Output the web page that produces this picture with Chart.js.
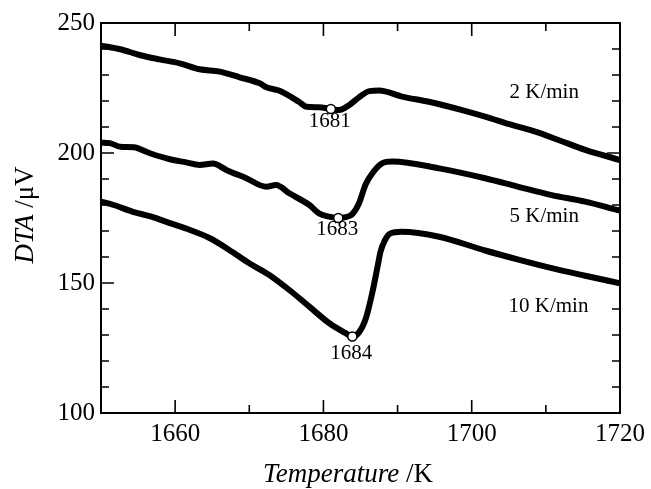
<!DOCTYPE html>
<html>
<head>
<meta charset="utf-8">
<script src="https://cdn.jsdelivr.net/npm/chart.js@4.4.0/dist/chart.umd.min.js"></script>
<style>
  html, body { margin: 0; padding: 0; background: #fff; }
  #wrap { width: 651px; height: 489px; position: relative; }
</style>
</head>
<body>
<div id="wrap"><canvas id="dta"></canvas></div>
<script>
// DTA curves (temperature in K, signal in uV)
var temp2 = [1650, 1652.6, 1655.2, 1657.9, 1660.6, 1663.3, 1666, 1668.7, 1671.4, 1672.3, 1674, 1676.7, 1677.7, 1679.4, 1681, 1682.1, 1683.5, 1684.8, 1686.2, 1687.5, 1690.6, 1694.2, 1698.7, 1701.8, 1705.4, 1708.6, 1711.7, 1715.3, 1720];
var dta2  = [241.3, 239.9, 237.7, 236, 234.5, 232.2, 231.3, 229.1, 226.8, 225.3, 224, 219.7, 217.8, 217.6, 216.9, 216.5, 218.5, 221.4, 223.8, 224, 221.7, 219.7, 216.5, 214, 210.8, 208.2, 205, 201.2, 197.3];

var temp5 = [1650, 1651.2, 1652.6, 1654.4, 1656.6, 1659.3, 1661.5, 1663.3, 1665.1, 1666.9, 1669.6, 1672.3, 1673.6, 1675.4, 1678.1, 1679.4, 1680.8, 1682, 1683, 1683.9, 1684.8, 1685.7, 1686.6, 1687.9, 1689.3, 1695.6, 1701.8, 1706.3, 1710.8, 1715.3, 1720];
var dta5  = [204, 203.8, 202.4, 202.2, 199.9, 197.6, 196.4, 195.4, 196, 193.5, 190.3, 187, 187.7, 184.5, 180, 176.8, 175.5, 175, 175.3, 176.5, 180.7, 188, 192.2, 196, 196.7, 194.1, 190.3, 187, 183.8, 181.3, 177.8];

var temp10 = [1650, 1651.7, 1654.3, 1656.8, 1659.3, 1662, 1664.7, 1667.3, 1670, 1672.7, 1675.4, 1678.1, 1680.8, 1683, 1683.9, 1684.8, 1685.7, 1686.6, 1687.3, 1687.7, 1688.3, 1689, 1690.5, 1695.6, 1701.8, 1706.3, 1710.8, 1715.3, 1720];
var dta10  = [181.3, 180, 177.4, 175.5, 173, 170.4, 167.2, 162.7, 157.6, 153.1, 147.3, 140.9, 134.5, 130.7, 129.4, 131, 136.2, 146.4, 156.3, 162, 166.5, 169, 169.7, 167.8, 162.5, 159, 155.7, 152.8, 149.9];

// open circles at the peak minima
var peakTemp  = [1681, 1682, 1683.9];
var peakDta   = [216.9, 175, 129.4];
var peakNames = ["1681", "1683", "1684"];

var rateNames = ["2 K/min", "5 K/min", "10 K/min"];

var SERIF = "'Liberation Serif', 'Times New Roman', serif";

function pts(xs, ys) {
    return xs.map(function (x, i) { return { x: x, y: ys[i] }; });
}

function curve(xs, ys) {
    return {
        data: pts(xs, ys),
        borderColor: '#000',
        borderWidth: 6,
        borderCapStyle: 'round',
        borderJoinStyle: 'round',
        pointRadius: 0,
        cubicInterpolationMode: 'monotone',
        fill: false,
        order: 2
    };
}

// frame, inward ticks and all the text
var framePlugin = {
    id: 'frame',
    afterDraw: function (chart) {
        var ctx = chart.ctx;
        var a = chart.chartArea;
        var xs = chart.scales.x, ys = chart.scales.y;
        ctx.save();
        ctx.strokeStyle = '#000';
        ctx.lineWidth = 2;
        ctx.strokeRect(a.left, a.top, a.right - a.left, a.bottom - a.top);

        ctx.lineWidth = 1.6;
        ctx.beginPath();
        for (var t = 1660; t < 1720; t += 10) {
            var px = xs.getPixelForValue(t);
            var len = (t % 20 === 0) ? 13 : 8;
            ctx.moveTo(px, a.bottom); ctx.lineTo(px, a.bottom - len);
            ctx.moveTo(px, a.top); ctx.lineTo(px, a.top + len);
        }
        for (var v = 110; v < 250; v += 10) {
            var py = ys.getPixelForValue(v);
            var l2 = (v % 50 === 0) ? 13 : 8;
            ctx.moveTo(a.left, py); ctx.lineTo(a.left + l2, py);
            ctx.moveTo(a.right, py); ctx.lineTo(a.right - l2, py);
        }
        ctx.stroke();

        ctx.fillStyle = '#000';
        ctx.textBaseline = 'alphabetic';

        // peak temperatures under the circles
        ctx.font = '21px ' + SERIF;
        ctx.textAlign = 'center';
        var offs = [18, 17, 22];
        for (var i = 0; i < peakNames.length; i++) {
            ctx.fillText(peakNames[i],
                xs.getPixelForValue(peakTemp[i]) - 1,
                ys.getPixelForValue(peakDta[i]) + offs[i]);
        }

        // heating rates
        ctx.textAlign = 'left';
        var rateAt = [221.2, 173.6, 139];
        for (var j = 0; j < rateNames.length; j++) {
            ctx.fillText(rateNames[j], xs.getPixelForValue(1705.1) + (j === 2 ? -1 : 0), ys.getPixelForValue(rateAt[j]));
        }

        // x title: italic word + roman unit
        ctx.font = 'italic 27px ' + SERIF;
        var w1 = ctx.measureText('Temperature').width;
        ctx.font = '27px ' + SERIF;
        var w2 = ctx.measureText(' /K').width;
        var x0 = 348 - (w1 + w2) / 2;
        ctx.font = 'italic 27px ' + SERIF;
        ctx.fillText('Temperature', x0, 482);
        ctx.font = '27px ' + SERIF;
        ctx.fillText(' /K', x0 + w1, 482);

        // y title, rotated
        ctx.translate(33, 215);
        ctx.rotate(-Math.PI / 2);
        ctx.font = 'italic 27px ' + SERIF;
        var w3 = ctx.measureText('DTA').width;
        ctx.font = '27px ' + SERIF;
        var w4 = ctx.measureText(' /\u03bcV').width;
        var y0 = -(w3 + w4) / 2;
        ctx.font = 'italic 27px ' + SERIF;
        ctx.fillText('DTA', y0, 0);
        ctx.font = '27px ' + SERIF;
        ctx.fillText(' /\u03bcV', y0 + w3, 0);
        ctx.restore();
    }
};

new Chart(document.getElementById('dta'), {
    type: 'line',
    data: {
        datasets: [
            curve(temp2, dta2),
            curve(temp5, dta5),
            curve(temp10, dta10),
            {
                data: pts(peakTemp, peakDta),
                showLine: false,
                pointRadius: 4.5,
                pointBackgroundColor: '#fff',
                pointBorderColor: '#000',
                pointBorderWidth: 1.5,
                order: 1
            }
        ]
    },
    options: {
        responsive: true,
        maintainAspectRatio: false,
        animation: false,
        events: [],
        layout: { padding: { left: 0, right: 29, top: 23, bottom: 0 } },
        plugins: { legend: { display: false }, tooltip: { enabled: false } },
        scales: {
            x: {
                type: 'linear',
                min: 1650, max: 1720,
                grid: { display: false, drawTicks: false },
                border: { display: false },
                ticks: {
                    stepSize: 10,
                    autoSkip: false,
                    maxRotation: 0,
                    padding: 6,
                    color: '#000',
                    font: { family: SERIF, size: 25 },
                    callback: function (v) { return v % 20 === 0 ? String(v) : ''; }
                },
                afterFit: function (s) { s.height = 76; }
            },
            y: {
                min: 100, max: 250,
                grid: { display: false, drawTicks: false },
                border: { display: false },
                ticks: {
                    stepSize: 10,
                    autoSkip: false,
                    padding: 6,
                    color: '#000',
                    font: { family: SERIF, size: 25 },
                    callback: function (v) { return v % 50 === 0 ? String(v) : ''; }
                },
                afterFit: function (s) { s.width = 101; }
            }
        }
    },
    plugins: [framePlugin]
});
</script>
</body>
</html>
